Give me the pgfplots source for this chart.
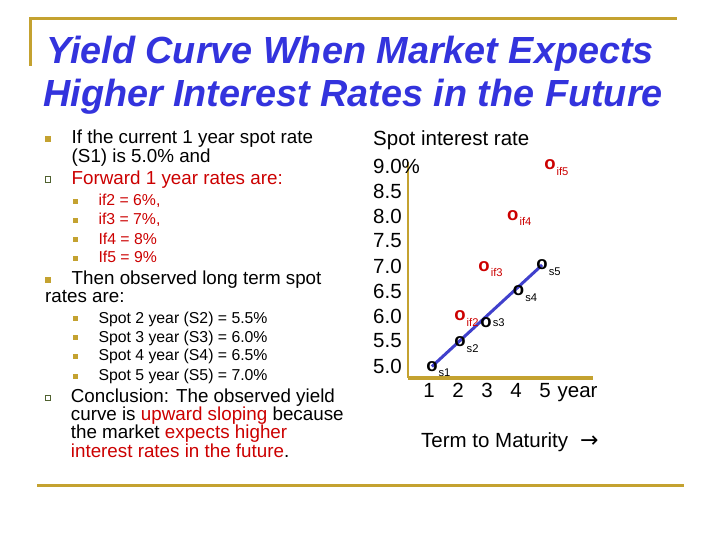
\documentclass[border=0pt]{standalone}
\usepackage{pgfplots}
\pgfplotsset{compat=1.18}
\usepackage{fontspec}
\setmainfont{Liberation Sans}
\newfontfamily\dejavu{DejaVu Sans}
\definecolor{gold}{RGB}{196,162,48}
\definecolor{tblue}{RGB}{51,51,221}
\definecolor{tred}{RGB}{204,0,0}
\definecolor{bgreen}{RGB}{80,98,48}
\definecolor{lblue}{RGB}{64,64,204}

\begin{document}
\begin{tikzpicture}
\fill[white] (0,0) rectangle (720pt,540pt);
\begin{scope}[x=1pt,y=-1pt,shift={(0pt,540pt)},
  body/.style={anchor=base west, inner sep=0pt, font=\fontsize{18.8}{20}\selectfont},
  sub/.style={anchor=base west, inner sep=0pt, font=\fontsize{15.8}{18}\selectfont}]
 % frame lines
 \draw[gold, line width=3pt] (29,19) -- (677,19);
 \draw[gold, line width=3pt] (30.5,17.5) -- (30.5,66);
 \draw[gold, line width=3pt] (37,486) -- (684,486);
 % title
 \node[anchor=base west, inner sep=0pt, font=\fontsize{37.8}{40}\selectfont\bfseries\itshape, text=tblue] at (46,63.3) {Yield Curve When Market Expects};
 \node[anchor=base west, inner sep=0pt, font=\fontsize{37.8}{40}\selectfont\bfseries\itshape, text=tblue] at (43,106.7) {Higher Interest Rates in the Future};
 % bullets level 1
 \fill[gold] (45,136.3) rectangle (51,142.3);
 \fill[gold] (45,277) rectangle (51,283);
 \draw[bgreen, line width=0.8pt] (45.3,176.8) rectangle (50.7,182.2);
 \draw[bgreen, line width=0.8pt] (45.3,395) rectangle (50.7,400.5);
 % bullets level 2
 \foreach \b in {206,225,244.3,262.7,323.3,342.3,361,380.7}
   \fill[gold] (73,\b-7) rectangle (78,\b-2);
 % text
 \node[body] at (71.5,144) {If the current 1 year spot rate};
 \node[body] at (71.5,162.5) {(S1) is 5.0\% and};
 \node[body, text=tred] at (71.5,184.3) {Forward 1 year rates are:};
 \node[sub, text=tred] at (98.3,206) {if2 = 6\%,};
 \node[sub, text=tred] at (98.3,225) {if3 = 7\%,};
 \node[sub, text=tred] at (98.3,244.3) {If4 = 8\%};
 \node[sub, text=tred] at (98.3,262.7) {If5 = 9\%};
 \node[body] at (71.5,285) {Then observed long term spot};
 \node[body] at (45,303) {rates are:};
 \node[sub] at (98.3,323.3) {Spot 2 year (S2) = 5.5\%};
 \node[sub] at (98.3,342.3) {Spot 3 year (S3) = 6.0\%};
 \node[sub] at (98.3,361) {Spot 4 year (S4) = 6.5\%};
 \node[sub] at (98.3,380.7) {Spot 5 year (S5) = 7.0\%};
 \node[body] at (70.7,402.3) {Conclusion: The observed yield};
 \node[body] at (70.7,420.7) {curve is \textcolor{tred}{upward sloping} because};
 \node[body] at (70.7,438.3) {the market \textcolor{tred}{expects higher}};
 \node[body] at (70.7,457.3) {\textcolor{tred}{interest rates in the future}.};
 % chart texts
 \node[anchor=base west, inner sep=0pt, font=\fontsize{20.5}{24}\selectfont] at (373,146) {Spot interest rate};
 \node[anchor=base west, inner sep=0pt, font=\fontsize{20.5}{24}\selectfont] at (421,448) {Term to Maturity\hspace{12pt}{\dejavu\fontsize{22}{24}\selectfont →}};
\end{scope}
\begin{axis}[
 at={(408pt,162pt)}, anchor=south west,
 scale only axis, width=185pt, height=216.3pt,
 xmin=0.276, xmax=6.655, ymin=4.76, ymax=9.086,
 axis lines=left,
 axis line style={-, gold},
 x axis line style={line width=4pt},
 y axis line style={line width=2.2pt},
 major tick length=0pt,
 xtick={1,2,3,4,5},
 xticklabels={1,2,3,4,5\rlap{\hspace{7pt}year}},
 ytick={5,5.5,6,6.5,7,7.5,8,8.5,9},
 yticklabels={5.0,5.5,6.0,6.5,7.0,7.5,8.0,8.5,9.0\%},
 tick label style={font=\fontsize{20.5}{24}\selectfont, inner sep=0pt},
 xticklabel style={anchor=base, yshift=-19.7pt},
 yticklabel style={anchor=west, xshift=-35pt},
 clip=false,
 ptlab/.style 2 args={only marks, mark=text, text mark={\fontsize{18.5}{19}\selectfont\bfseries\color{#2}o},
   point meta=explicit symbolic, nodes near coords,
   every node near coord/.append style={anchor=west, inner sep=0pt, xshift=6.5pt, yshift=#1, text=#2, font=\fontsize{11.2}{13}\selectfont}},
]
\addplot[lblue, line width=3pt] coordinates {(1.10,4.99) (4.90,7.02)};
\addplot[ptlab={-6.5pt}{black}] coordinates {(1.10,4.99) [s1] (2.07,5.48) [s2] (4.09,6.50) [s4] (4.90,7.02) [s5]};
\addplot[ptlab={0pt}{black}] coordinates {(2.97,5.87) [s3]};
\addplot[ptlab={-6.3pt}{tred}] coordinates {(2.07,6.00) [if2] (2.90,6.99) [if3] (3.89,8.01) [if4] (5.17,9.02) [if5]};
\end{axis}
\end{tikzpicture}
\end{document}
